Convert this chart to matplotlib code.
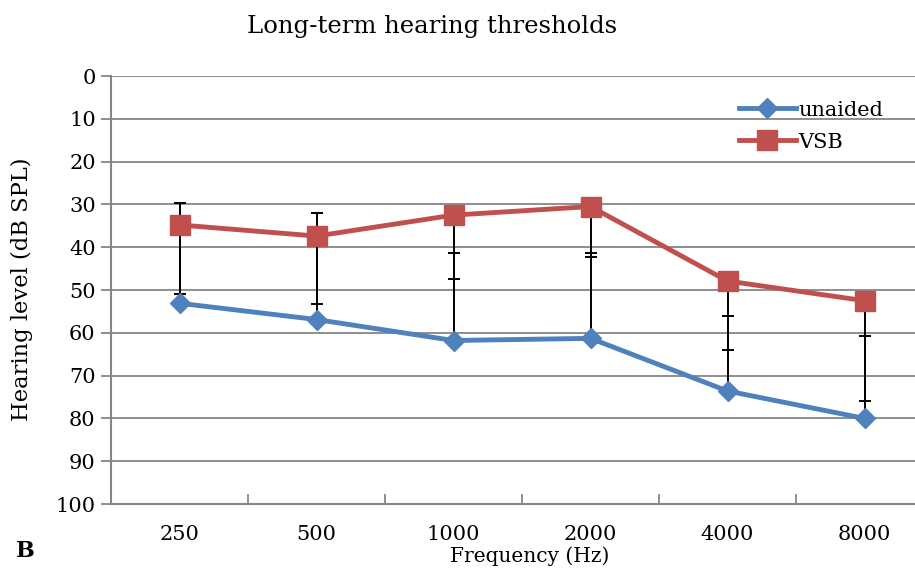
import matplotlib
matplotlib.use("Agg")
import matplotlib.pyplot as plt
import numpy as np

# Data
freqs = ["250", "500", "1000", "2000", "4000", "8000"]
unaided = [53.1, 56.9, 61.8, 61.3, 73.6, 80.0]
vsb = [34.8, 37.4, 32.5, 30.5, 47.9, 52.5]
unaided_err_up = [23.4, 25.0, 20.4, 19.9, 17.6, 19.3]   # drawn towards lower dB
vsb_err_down = [16.2, 15.9, 14.9, 11.9, 16.1, 23.4]     # drawn towards higher dB
yticks = list(range(0, 101, 10))

plt.rcParams['font.family'] = ['DejaVu Serif']

fig = plt.figure(figsize=(9.15, 5.71), dpi=100)
ax = fig.add_axes([111/915, 1-504/571, 822/915, 428/571])

x = np.arange(len(freqs))
blue = "#4F81BD"
red = "#C0504D"

# error bars (one-sided)
ax.errorbar(x, unaided, yerr=[unaided_err_up, [0]*len(x)], fmt="none",
            ecolor="black", elinewidth=1.4, capsize=4.5, capthick=1.4, zorder=2)
ax.errorbar(x, vsb, yerr=[[0]*len(x), vsb_err_down], fmt="none",
            ecolor="black", elinewidth=1.4, capsize=4.5, capthick=1.4, zorder=2)

ax.plot(x, unaided, color=blue, lw=3.5, marker="D", markersize=10.5,
        label="unaided", zorder=3)
ax.plot(x, vsb, color=red, lw=3.5, marker="s", markersize=14,
        label="VSB", zorder=3)

ax.set_xlim(-0.5, len(x) - 0.5)
ax.set_ylim(100, 0)
ax.set_yticks(yticks)
ax.tick_params(axis='y', labelsize=15, length=7, width=1.3, color="#868686",
               direction='out', pad=4)
ax.set_xticks(x)
ax.set_xticklabels(freqs)
ax.tick_params(axis='x', which='major', length=0, labelsize=15, pad=15)
ax.set_xticks(np.arange(-0.5, len(x), 1.0), minor=True)
ax.tick_params(axis='x', which='minor', length=7, width=1.3, color="#868686",
               direction='in')

ax.grid(axis='y', color="#868686", lw=1.3, zorder=0)
for s in ["top", "right"]:
    ax.spines[s].set_visible(False)
for s in ["left", "bottom"]:
    ax.spines[s].set_color("#868686")
    ax.spines[s].set_linewidth(1.5)

fig.text(22/915, 1-289/571, "Hearing level (dB SPL)", fontsize=16.3,
         rotation=90, ha="center", va="center")
fig.text(530/915, 1-556/571, "Frequency (Hz)", fontsize=14.5,
         ha="center", va="center")

leg = ax.legend(loc="upper left", bbox_to_anchor=(620/822, 0.962), frameon=False,
                fontsize=15, handlelength=2.7, handletextpad=0.15,
                labelspacing=0.62, borderaxespad=0)

fig.text(432/915, 1-27/571, "Long-term hearing thresholds", fontsize=17.5,
         ha="center", va="center")
fig.text(25/915, 1-551/571, "B", fontsize=16, fontweight="bold",
         ha="center", va="center")

fig.savefig("out.png", dpi=100)
